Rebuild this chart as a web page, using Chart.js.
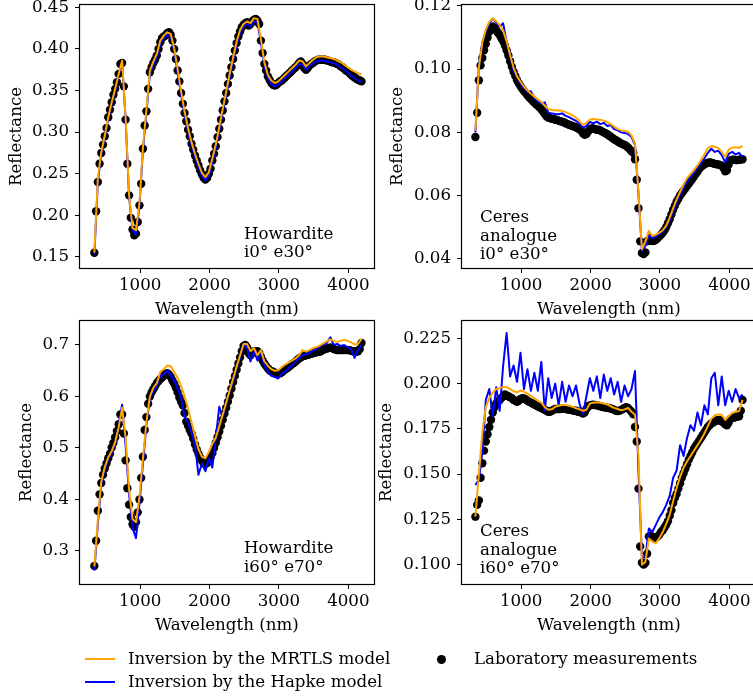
<!DOCTYPE html>
<html>
<head>
<meta charset="utf-8">
<script src="https://cdn.jsdelivr.net/npm/chart.js@4.4.0/dist/chart.umd.min.js"></script>
<style>
  html, body { margin: 0; background: #fff; }
  #page { position: relative; width: 753px; height: 700px; overflow: hidden; font-family: 'DejaVu Serif', serif; }
  canvas { position: absolute; }
  .key-text { position: absolute; font-size: 16.67px; line-height: 20px; color: #000; white-space: nowrap; }
  .key-line { position: absolute; width: 30px; height: 2px; }
  .key-dot { position: absolute; width: 9px; height: 9px; border-radius: 50%; background: #000; }
</style>
</head>
<body>
<div id="page"></div>
<script>
// sampling grids (nm)
const labWavelengths = [
  340, 365, 390, 415, 440, 465, 490, 515, 540, 565,
  590, 615, 640, 665, 690, 715, 740, 765, 790, 815,
  840, 865, 890, 915, 940, 965, 990, 1015, 1040, 1065,
  1090, 1115, 1140, 1165, 1190, 1215, 1240, 1265, 1290, 1315,
  1340, 1365, 1390, 1415, 1440, 1465, 1490, 1515, 1540, 1565,
  1590, 1615, 1640, 1665, 1690, 1715, 1740, 1765, 1790, 1815,
  1840, 1865, 1890, 1915, 1940, 1965, 1990, 2015, 2040, 2065,
  2090, 2115, 2140, 2165, 2190, 2215, 2240, 2265, 2290, 2315,
  2340, 2365, 2390, 2415, 2440, 2465, 2490, 2515, 2540, 2565,
  2590, 2615, 2640, 2665, 2690, 2715, 2740, 2765, 2790, 2815,
  2840, 2865, 2890, 2915, 2940, 2965, 2990, 3015, 3040, 3065,
  3090, 3115, 3140, 3165, 3190, 3215, 3240, 3265, 3290, 3315,
  3340, 3365, 3390, 3415, 3440, 3465, 3490, 3515, 3540, 3565,
  3590, 3615, 3640, 3665, 3690, 3715, 3740, 3765, 3790, 3815,
  3840, 3865, 3890, 3915, 3940, 3965, 3990, 4015, 4040, 4065,
  4090, 4115, 4140, 4165, 4190
];
const modelWavelengths = [
  340, 390, 440, 490, 540, 590, 640, 690, 740, 790,
  840, 890, 940, 990, 1040, 1090, 1140, 1190, 1240, 1290,
  1340, 1390, 1440, 1490, 1540, 1590, 1640, 1690, 1740, 1790,
  1840, 1890, 1940, 1990, 2040, 2090, 2140, 2190, 2240, 2290,
  2340, 2390, 2440, 2490, 2540, 2590, 2640, 2690, 2740, 2790,
  2840, 2890, 2940, 2990, 3040, 3090, 3140, 3190, 3240, 3290,
  3340, 3390, 3440, 3490, 3540, 3590, 3640, 3690, 3740, 3790,
  3840, 3890, 3940, 3990, 4040, 4090, 4140, 4190
];

const seriesNames = ['Inversion by the MRTLS model', 'Inversion by the Hapke model', 'Laboratory measurements'];
const xTickValues = [1000, 2000, 3000, 4000];

// Howardite, i0° e30°
const howardite030Lab = [
  0.155, 0.205, 0.240, 0.262, 0.275, 0.285, 0.295, 0.305, 0.318, 0.327,
  0.336, 0.345, 0.352, 0.360, 0.370, 0.382, 0.383, 0.355, 0.315, 0.262,
  0.224, 0.197, 0.183, 0.176, 0.178, 0.192, 0.212, 0.238, 0.280, 0.308,
  0.325, 0.352, 0.372, 0.378, 0.383, 0.387, 0.392, 0.400, 0.408, 0.413,
  0.415, 0.416, 0.419, 0.420, 0.417, 0.410, 0.400, 0.388, 0.374, 0.361,
  0.347, 0.334, 0.323, 0.313, 0.303, 0.295, 0.286, 0.279, 0.272, 0.266,
  0.260, 0.254, 0.249, 0.245, 0.243, 0.245, 0.250, 0.256, 0.266, 0.274,
  0.283, 0.294, 0.304, 0.315, 0.326, 0.337, 0.347, 0.358, 0.368, 0.378,
  0.388, 0.398, 0.407, 0.415, 0.421, 0.426, 0.429, 0.431, 0.432, 0.428,
  0.430, 0.433, 0.435, 0.436, 0.434, 0.430, 0.410, 0.395, 0.382, 0.374,
  0.367, 0.363, 0.359, 0.357, 0.356, 0.357, 0.359, 0.361, 0.362, 0.364,
  0.366, 0.368, 0.370, 0.372, 0.374, 0.376, 0.378, 0.380, 0.383, 0.385,
  0.382, 0.377, 0.375, 0.377, 0.380, 0.382, 0.383, 0.385, 0.386, 0.387,
  0.387, 0.387, 0.387, 0.387, 0.386, 0.386, 0.385, 0.384, 0.384, 0.383,
  0.382, 0.381, 0.379, 0.378, 0.376, 0.374, 0.373, 0.371, 0.369, 0.367,
  0.366, 0.364, 0.363, 0.362, 0.361
];
const howardite030Mrtls = [
  0.155, 0.245, 0.276, 0.296, 0.318, 0.336, 0.352, 0.370, 0.386, 0.318,
  0.225, 0.185, 0.182, 0.215, 0.282, 0.327, 0.374, 0.385, 0.394, 0.410,
  0.416, 0.420, 0.418, 0.401, 0.376, 0.349, 0.325, 0.305, 0.288, 0.274,
  0.262, 0.251, 0.246, 0.252, 0.268, 0.285, 0.306, 0.328, 0.349, 0.370,
  0.390, 0.409, 0.423, 0.430, 0.433, 0.431, 0.437, 0.436, 0.412, 0.384,
  0.369, 0.362, 0.359, 0.361, 0.365, 0.369, 0.373, 0.377, 0.381, 0.386,
  0.385, 0.379, 0.383, 0.387, 0.390, 0.391, 0.391, 0.390, 0.389, 0.388,
  0.386, 0.384, 0.381, 0.378, 0.375, 0.373, 0.371, 0.369
];
const howardite030Hapke = [
  0.153, 0.240, 0.274, 0.294, 0.316, 0.334, 0.350, 0.368, 0.384, 0.316,
  0.223, 0.182, 0.177, 0.211, 0.279, 0.323, 0.370, 0.381, 0.390, 0.406,
  0.413, 0.417, 0.415, 0.398, 0.372, 0.345, 0.321, 0.301, 0.284, 0.270,
  0.258, 0.247, 0.242, 0.248, 0.264, 0.281, 0.302, 0.324, 0.345, 0.366,
  0.386, 0.405, 0.419, 0.427, 0.430, 0.427, 0.433, 0.432, 0.408, 0.380,
  0.365, 0.358, 0.355, 0.357, 0.361, 0.365, 0.369, 0.373, 0.377, 0.382,
  0.381, 0.375, 0.379, 0.383, 0.385, 0.386, 0.386, 0.385, 0.384, 0.383,
  0.381, 0.378, 0.375, 0.372, 0.368, 0.365, 0.362, 0.360
];

// Ceres analogue, i0° e30°
const ceres030Lab = [
  0.0785, 0.0862, 0.0965, 0.1012, 0.1035, 0.1060, 0.1080, 0.1100, 0.1118, 0.1130,
  0.1135, 0.1130, 0.1122, 0.1115, 0.1108, 0.1098, 0.1088, 0.1075, 0.1060, 0.1043,
  0.1025, 0.1008, 0.0992, 0.0978, 0.0965, 0.0955, 0.0946, 0.0938, 0.0931, 0.0924,
  0.0917, 0.0911, 0.0905, 0.0899, 0.0894, 0.0889, 0.0884, 0.0879, 0.0873, 0.0866,
  0.0858, 0.0851, 0.0847, 0.0845, 0.0843, 0.0842, 0.0840, 0.0839, 0.0837, 0.0835,
  0.0834, 0.0832, 0.0829, 0.0826, 0.0824, 0.0822, 0.0820, 0.0818, 0.0816, 0.0813,
  0.0810, 0.0805, 0.0797, 0.0792, 0.0795, 0.0803, 0.0810, 0.0812, 0.0812, 0.0810,
  0.0808, 0.0808, 0.0806, 0.0803, 0.0800, 0.0797, 0.0794, 0.0790, 0.0786, 0.0782,
  0.0778, 0.0775, 0.0772, 0.0768, 0.0765, 0.0762, 0.0760, 0.0757, 0.0752, 0.0746,
  0.0740, 0.0735, 0.0715, 0.0650, 0.0560, 0.0455, 0.0418, 0.0415, 0.0420, 0.0455,
  0.0460, 0.0457, 0.0456, 0.0457, 0.0460, 0.0465, 0.0470, 0.0476, 0.0482, 0.0490,
  0.0500, 0.0512, 0.0525, 0.0540, 0.0555, 0.0568, 0.0580, 0.0590, 0.0600, 0.0608,
  0.0615, 0.0622, 0.0630, 0.0637, 0.0645, 0.0652, 0.0660, 0.0668, 0.0676, 0.0684,
  0.0690, 0.0695, 0.0699, 0.0702, 0.0704, 0.0705, 0.0704, 0.0702, 0.0700, 0.0699,
  0.0698, 0.0697, 0.0694, 0.0687, 0.0677, 0.0680, 0.0698, 0.0710, 0.0713, 0.0713,
  0.0712, 0.0712, 0.0713, 0.0714, 0.0715
];
const ceres030Mrtls = [
  0.0805, 0.1005, 0.1085, 0.1125, 0.1150, 0.1160, 0.1152, 0.1140, 0.1122, 0.1088,
  0.1045, 0.1005, 0.0977, 0.0960, 0.0945, 0.0933, 0.0922, 0.0913, 0.0904, 0.0896,
  0.0885, 0.0874, 0.0871, 0.0870, 0.0869, 0.0868, 0.0864, 0.0859, 0.0854, 0.0846,
  0.0835, 0.0823, 0.0830, 0.0841, 0.0842, 0.0841, 0.0840, 0.0837, 0.0832, 0.0826,
  0.0818, 0.0810, 0.0806, 0.0804, 0.0802, 0.0790, 0.0765, 0.0610, 0.0430, 0.0455,
  0.0488, 0.0472, 0.0476, 0.0482, 0.0490, 0.0505, 0.0530, 0.0560, 0.0588, 0.0612,
  0.0635, 0.0655, 0.0668, 0.0680, 0.0695, 0.0712, 0.0730, 0.0750, 0.0756, 0.0755,
  0.0750, 0.0738, 0.0722, 0.0745, 0.0752, 0.0752, 0.0751, 0.0757
];
const ceres030Hapke = [
  0.0800, 0.1010, 0.1085, 0.1120, 0.1145, 0.1160, 0.1148, 0.1135, 0.1145, 0.1085,
  0.1045, 0.0995, 0.0975, 0.0955, 0.0940, 0.0928, 0.0930, 0.0908, 0.0898, 0.0890,
  0.0895, 0.0862, 0.0860, 0.0858, 0.0857, 0.0860, 0.0852, 0.0848, 0.0842, 0.0836,
  0.0828, 0.0815, 0.0820, 0.0833, 0.0828, 0.0834, 0.0826, 0.0830, 0.0820, 0.0823,
  0.0810, 0.0806, 0.0800, 0.0798, 0.0795, 0.0785, 0.0760, 0.0605, 0.0425, 0.0440,
  0.0478, 0.0465, 0.0470, 0.0478, 0.0486, 0.0500, 0.0522, 0.0550, 0.0578, 0.0602,
  0.0625, 0.0645, 0.0660, 0.0672, 0.0688, 0.0702, 0.0718, 0.0735, 0.0748, 0.0738,
  0.0742, 0.0728, 0.0705, 0.0732, 0.0738, 0.0730, 0.0735, 0.0722
];

// Howardite, i60° e70°
const howardite6070Lab = [
  0.271, 0.320, 0.378, 0.410, 0.432, 0.448, 0.460, 0.470, 0.480, 0.489,
  0.501, 0.510, 0.521, 0.533, 0.546, 0.565, 0.565, 0.528, 0.476, 0.422,
  0.390, 0.366, 0.352, 0.347, 0.356, 0.375, 0.400, 0.442, 0.483, 0.535,
  0.560, 0.586, 0.600, 0.608, 0.614, 0.620, 0.626, 0.630, 0.634, 0.637,
  0.640, 0.644, 0.645, 0.643, 0.638, 0.631, 0.625, 0.617, 0.608, 0.598,
  0.590, 0.583, 0.568, 0.551, 0.543, 0.535, 0.528, 0.518, 0.507, 0.497,
  0.489, 0.481, 0.475, 0.470, 0.469, 0.471, 0.475, 0.482, 0.490, 0.500,
  0.510, 0.521, 0.532, 0.543, 0.555, 0.567, 0.578, 0.590, 0.602, 0.615,
  0.628, 0.640, 0.652, 0.664, 0.676, 0.688, 0.698, 0.700, 0.695, 0.684,
  0.680, 0.686, 0.688, 0.686, 0.688, 0.685, 0.677, 0.670, 0.664, 0.659,
  0.655, 0.651, 0.649, 0.648, 0.646, 0.645, 0.645, 0.645, 0.647, 0.650,
  0.653, 0.655, 0.657, 0.660, 0.663, 0.665, 0.668, 0.671, 0.674, 0.676,
  0.678, 0.679, 0.680, 0.681, 0.682, 0.683, 0.684, 0.685, 0.686, 0.687,
  0.687, 0.689, 0.691, 0.692, 0.693, 0.694, 0.695, 0.694, 0.692, 0.691,
  0.690, 0.690, 0.690, 0.690, 0.690, 0.690, 0.690, 0.690, 0.689, 0.688,
  0.688, 0.687, 0.688, 0.692, 0.704
];
const howardite6070Mrtls = [
  0.270, 0.360, 0.435, 0.463, 0.482, 0.494, 0.512, 0.540, 0.578, 0.520,
  0.420, 0.362, 0.356, 0.405, 0.480, 0.550, 0.600, 0.617, 0.626, 0.648,
  0.653, 0.660, 0.659, 0.648, 0.636, 0.621, 0.600, 0.577, 0.550, 0.523,
  0.498, 0.483, 0.480, 0.492, 0.508, 0.520, 0.542, 0.565, 0.588, 0.612,
  0.635, 0.658, 0.680, 0.702, 0.702, 0.688, 0.694, 0.680, 0.690, 0.668,
  0.660, 0.653, 0.650, 0.651, 0.657, 0.662, 0.666, 0.670, 0.674, 0.680,
  0.690, 0.687, 0.690, 0.694, 0.696, 0.699, 0.703, 0.707, 0.711, 0.708,
  0.706, 0.708, 0.710, 0.708, 0.705, 0.701, 0.702, 0.712
];
const howardite6070Hapke = [
  0.262, 0.352, 0.430, 0.458, 0.478, 0.490, 0.508, 0.545, 0.584, 0.505,
  0.410, 0.345, 0.325, 0.392, 0.470, 0.545, 0.595, 0.610, 0.620, 0.640,
  0.643, 0.650, 0.642, 0.632, 0.615, 0.598, 0.560, 0.550, 0.530, 0.505,
  0.448, 0.470, 0.455, 0.480, 0.462, 0.520, 0.580, 0.560, 0.590, 0.610,
  0.630, 0.655, 0.676, 0.700, 0.695, 0.668, 0.688, 0.670, 0.684, 0.660,
  0.648, 0.640, 0.638, 0.635, 0.645, 0.648, 0.655, 0.660, 0.668, 0.674,
  0.680, 0.682, 0.684, 0.690, 0.692, 0.698, 0.700, 0.704, 0.715, 0.700,
  0.702, 0.698, 0.700, 0.696, 0.692, 0.675, 0.690, 0.700
];

// Ceres analogue, i60° e70°
const ceres6070Lab = [
  0.1265, 0.1330, 0.1355, 0.1480, 0.1560, 0.1630, 0.1680, 0.1720, 0.1760, 0.1800,
  0.1840, 0.1870, 0.1890, 0.1900, 0.1910, 0.1920, 0.1930, 0.1940, 0.1935, 0.1930,
  0.1925, 0.1920, 0.1910, 0.1905, 0.1900, 0.1905, 0.1915, 0.1920, 0.1918, 0.1912,
  0.1905, 0.1900, 0.1895, 0.1890, 0.1885, 0.1880, 0.1875, 0.1870, 0.1865, 0.1860,
  0.1855, 0.1850, 0.1845, 0.1845, 0.1850, 0.1855, 0.1860, 0.1860, 0.1860, 0.1860,
  0.1862, 0.1862, 0.1860, 0.1858, 0.1856, 0.1855, 0.1853, 0.1850, 0.1850, 0.1845,
  0.1845, 0.1840, 0.1835, 0.1840, 0.1860, 0.1875, 0.1880, 0.1882, 0.1883, 0.1882,
  0.1880, 0.1878, 0.1875, 0.1872, 0.1870, 0.1868, 0.1866, 0.1865, 0.1862, 0.1860,
  0.1855, 0.1850, 0.1848, 0.1850, 0.1855, 0.1860, 0.1865, 0.1870, 0.1865, 0.1855,
  0.1845, 0.1830, 0.1760, 0.1680, 0.1420, 0.1100, 0.1010, 0.1000, 0.1010, 0.1060,
  0.1155, 0.1160, 0.1155, 0.1145, 0.1150, 0.1155, 0.1165, 0.1180, 0.1190, 0.1205,
  0.1220, 0.1240, 0.1270, 0.1300, 0.1340, 0.1370, 0.1390, 0.1420, 0.1450, 0.1480,
  0.1505, 0.1530, 0.1555, 0.1580, 0.1600, 0.1620, 0.1640, 0.1655, 0.1670, 0.1685,
  0.1700, 0.1715, 0.1730, 0.1745, 0.1760, 0.1770, 0.1780, 0.1785, 0.1790, 0.1795,
  0.1800, 0.1798, 0.1790, 0.1785, 0.1775, 0.1770, 0.1785, 0.1805, 0.1810, 0.1812,
  0.1815, 0.1818, 0.1820, 0.1850, 0.1910
];
const ceres6070Mrtls = [
  0.1265, 0.1500, 0.1730, 0.1870, 0.1920, 0.1950, 0.1970, 0.1975, 0.1980, 0.1982,
  0.1970, 0.1958, 0.1952, 0.1962, 0.1955, 0.1945, 0.1932, 0.1920, 0.1905, 0.1895,
  0.1870, 0.1856, 0.1858, 0.1872, 0.1878, 0.1882, 0.1882, 0.1878, 0.1872, 0.1864,
  0.1858, 0.1850, 0.1855, 0.1890, 0.1895, 0.1897, 0.1894, 0.1890, 0.1885, 0.1875,
  0.1866, 0.1860, 0.1852, 0.1858, 0.1865, 0.1845, 0.1828, 0.1600, 0.1000, 0.1015,
  0.1145, 0.1128, 0.1118, 0.1145, 0.1180, 0.1225, 0.1275, 0.1350, 0.1425, 0.1485,
  0.1535, 0.1570, 0.1600, 0.1630, 0.1660, 0.1690, 0.1725, 0.1765, 0.1805, 0.1825,
  0.1830, 0.1828, 0.1800, 0.1820, 0.1838, 0.1845, 0.1849, 0.1910
];
const ceres6070Hapke = [
  0.1440, 0.1470, 0.1620, 0.1910, 0.1970, 0.1820, 0.1980, 0.1850, 0.2100, 0.2280,
  0.2040, 0.2100, 0.2010, 0.2170, 0.1970, 0.2080, 0.1960, 0.2060, 0.1960, 0.2120,
  0.1850, 0.2030, 0.1920, 0.2000, 0.1880, 0.2010, 0.1900, 0.1990, 0.1930, 0.1990,
  0.1890, 0.1830, 0.1930, 0.2030, 0.1960, 0.2040, 0.1920, 0.2050, 0.1960, 0.2030,
  0.1940, 0.2010, 0.1900, 0.1990, 0.1930, 0.1970, 0.2070, 0.1520, 0.1040, 0.1040,
  0.1200, 0.1180, 0.1220, 0.1260, 0.1290, 0.1330, 0.1380, 0.1480, 0.1520, 0.1660,
  0.1600, 0.1700, 0.1770, 0.1740, 0.1840, 0.1770, 0.1880, 0.1830, 0.2030, 0.2060,
  0.1880, 0.2040, 0.1880, 0.1960, 0.1900, 0.1970, 0.1920, 0.1940
];

// y tick labels per panel
const howardite030Ticks = ['0.15', '0.20', '0.25', '0.30', '0.35', '0.40', '0.45'];
const ceres030Ticks = ['0.04', '0.06', '0.08', '0.10', '0.12'];
const howardite6070Ticks = ['0.3', '0.4', '0.5', '0.6', '0.7'];
const ceres6070Ticks = ['0.100', '0.125', '0.150', '0.175', '0.200', '0.225'];

const FONT = "'DejaVu Serif', serif";
const FONT_SIZE = 16.67;
Chart.defaults.font.family = FONT;
Chart.defaults.font.size = FONT_SIZE;
Chart.defaults.color = '#000';

const page = document.getElementById('page');

// matplotlib-like box round the axes
const framePlugin = {
  id: 'frame',
  afterDraw(chart) {
    const a = chart.chartArea, ctx = chart.ctx;
    ctx.save();
    ctx.strokeStyle = '#000';
    ctx.lineWidth = 1.2;
    ctx.strokeRect(Math.round(a.left) - 0.5, Math.round(a.top) - 0.5, Math.round(a.right - a.left) + 1, Math.round(a.bottom - a.top) + 1);
    ctx.restore();
  }
};

const notePlugin = {
  id: 'note',
  afterDraw(chart, args, opts) {
    const a = chart.chartArea, ctx = chart.ctx;
    ctx.save();
    ctx.font = FONT_SIZE + 'px ' + FONT;
    ctx.fillStyle = '#000';
    ctx.textBaseline = 'alphabetic';
    opts.lines.forEach((t, i) => ctx.fillText(t, a.left + opts.dx, a.top + opts.dy + i * opts.gap));
    ctx.restore();
  }
};

function toPoints(xs, ys) {
  return ys.map((y, i) => ({ x: xs[i], y: y }));
}

function drawPanel(p) {
  const canvas = document.createElement('canvas');
  canvas.width = p.width;
  canvas.height = p.height;
  canvas.style.width = p.width + 'px';
  canvas.style.height = p.height + 'px';
  canvas.style.left = p.left + 'px';
  canvas.style.top = p.top + 'px';
  page.appendChild(canvas);

  const tickGrid = { display: true, drawOnChartArea: false, drawTicks: true, tickLength: 5, color: '#000' };

  new Chart(canvas.getContext('2d'), {
    type: 'line',
    data: {
      datasets: [
        {
          label: seriesNames[0],
          data: toPoints(modelWavelengths, p.mrtls),
          borderColor: 'orange',
          borderWidth: 2,
          pointRadius: 0,
          borderJoinStyle: 'round',
          order: 1
        },
        {
          label: seriesNames[1],
          data: toPoints(modelWavelengths, p.hapke),
          borderColor: 'blue',
          borderWidth: 2,
          pointRadius: 0,
          borderJoinStyle: 'round',
          order: 2
        },
        {
          label: seriesNames[2],
          data: toPoints(labWavelengths, p.lab),
          showLine: false,
          pointRadius: 4.2,
          pointBorderWidth: 0,
          pointBackgroundColor: '#000',
          borderColor: '#000',
          order: 3
        }
      ]
    },
    options: {
      responsive: false,
      animation: false,
      events: [],
      layout: { padding: { top: 5, right: 2, left: 0, bottom: 0 } },
      plugins: {
        legend: { display: false },
        tooltip: { enabled: false },
        note: p.note
      },
      scales: {
        x: {
          type: 'linear',
          min: p.xMin,
          max: p.xMax,
          afterBuildTicks: (s) => { s.ticks = xTickValues.map((v) => ({ value: v })); },
          afterFit: (s) => { s.height = 56; s.paddingLeft = 0; s.paddingRight = 0; },
          ticks: { padding: 3, maxRotation: 0, autoSkip: false, callback: (v) => String(v) },
          grid: tickGrid,
          border: { display: false },
          title: { display: true, text: 'Wavelength (nm)', padding: { top: 0, bottom: 4 } }
        },
        y: {
          type: 'linear',
          min: p.yMin,
          max: p.yMax,
          afterBuildTicks: (s) => { s.ticks = p.yTicks.map((t) => ({ value: parseFloat(t) })); },
          afterFit: (s) => { s.width = p.yAxisWidth; s.paddingTop = 0; s.paddingBottom = 0; },
          ticks: { padding: 6, autoSkip: false, callback: (v, i) => p.yTicks[i] },
          grid: tickGrid,
          border: { display: false },
          title: { display: true, text: 'Reflectance', padding: { top: 4, bottom: 0 } }
        }
      }
    },
    plugins: [framePlugin, notePlugin]
  });
}

drawPanel({
  lab: howardite030Lab, mrtls: howardite030Mrtls, hapke: howardite030Hapke, yTicks: howardite030Ticks,
  xMin: 133, xMax: 4367, yMin: 0.1367, yMax: 0.4528,
  left: 3, top: 0, width: 375, height: 324, yAxisWidth: 77,
  note: { lines: ['Howardite', 'i0° e30°'], dx: 164, dy: 234, gap: 18.3 }
});
drawPanel({
  lab: ceres030Lab, mrtls: ceres030Mrtls, hapke: ceres030Hapke, yTicks: ceres030Ticks,
  xMin: 147, xMax: 4381, yMin: 0.03706, yMax: 0.1203,
  left: 384, top: 0, width: 376, height: 324, yAxisWidth: 78,
  note: { lines: ['Ceres', 'analogue', 'i0° e30°'], dx: 18, dy: 217, gap: 18.5 }
});
drawPanel({
  lab: howardite6070Lab, mrtls: howardite6070Mrtls, hapke: howardite6070Hapke, yTicks: howardite6070Ticks,
  xMin: 133, xMax: 4367, yMin: 0.2359, yMax: 0.7466,
  left: 13, top: 316, width: 365, height: 324, yAxisWidth: 67,
  note: { lines: ['Howardite', 'i60° e70°'], dx: 164, dy: 232, gap: 18.7 }
});
drawPanel({
  lab: ceres6070Lab, mrtls: ceres6070Mrtls, hapke: ceres6070Hapke, yTicks: ceres6070Ticks,
  xMin: 147, xMax: 4381, yMin: 0.0893, yMax: 0.2346,
  left: 373, top: 316, width: 387, height: 324, yAxisWidth: 89,
  note: { lines: ['Ceres', 'analogue', 'i60° e70°'], dx: 18, dy: 215, gap: 18.5 }
});

// shared legend under the panels
function addKey(text, cls, left, top, color) {
  const el = document.createElement('div');
  el.className = cls;
  el.style.left = left + 'px';
  el.style.top = top + 'px';
  if (color) el.style.background = color;
  if (text) el.textContent = text;
  page.appendChild(el);
}
addKey(null, 'key-line', 85, 658, 'orange');
addKey(seriesNames[0], 'key-text', 128, 649);
addKey(null, 'key-line', 85, 681, 'blue');
addKey(seriesNames[1], 'key-text', 128, 672);
addKey(null, 'key-dot', 436.5, 654.5);
addKey(seriesNames[2], 'key-text', 474, 649);
</script>
</body>
</html>
